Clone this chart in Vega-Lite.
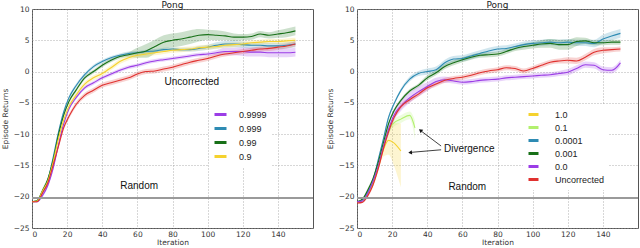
{
"$schema": "https://vega.github.io/schema/vega-lite/v6.json",
"padding": 0,
"spacing": 10,
"background": "white",
"config": {
 "font": "Liberation Sans",
 "view": {"stroke": "#555", "strokeWidth": 1},
 "axis": {"grid": true, "gridColor": "#999", "gridDash": [1, 2], "gridWidth": 0.8, "domain": false, "tickSize": 0, "tickCount": 10, "labelOverlap": false, "labelFont": "DejaVu Sans", "labelFontSize": 7.5, "labelColor": "#333", "titleFont": "DejaVu Sans", "titleFontSize": 7.5, "titleFontWeight": "normal", "titleColor": "#333"},
 "title": {"font": "DejaVu Sans", "fontSize": 9, "fontWeight": "normal", "offset": -5, "color": "#222"},
 "legend": {"symbolType": "stroke", "symbolStrokeWidth": 3, "symbolOpacity": 1, "labelFontSize": 9, "labelFont": "Liberation Sans", "labelColor": "#222", "fillColor": "white", "padding": 4, "rowPadding": 0}
},
"datasets": {
"L": [
{"s":"0.9999","x":0,"y":-20.8,"lo":-20.9,"hi":-20.7},{"s":"0.9999","x":3,"y":-20.8,"lo":-20.9,"hi":-20.7},{"s":"0.9999","x":6,"y":-19.8,"lo":-20.1,"hi":-19.5},{"s":"0.9999","x":9,"y":-18.2,"lo":-18.5,"hi":-17.9},{"s":"0.9999","x":12,"y":-15.5,"lo":-15.8,"hi":-15.2},{"s":"0.9999","x":15,"y":-11.8,"lo":-12.1,"hi":-11.5},{"s":"0.9999","x":18,"y":-8.4,"lo":-8.7,"hi":-8.1},{"s":"0.9999","x":21,"y":-6.0,"lo":-6.3,"hi":-5.7},{"s":"0.9999","x":25,"y":-4.2,"lo":-4.5,"hi":-3.9},{"s":"0.9999","x":30,"y":-2.6,"lo":-2.9,"hi":-2.3},{"s":"0.9999","x":35,"y":-1.8,"lo":-2.1,"hi":-1.5},{"s":"0.9999","x":40,"y":-1.0,"lo":-1.3,"hi":-0.7},{"s":"0.9999","x":45,"y":-0.4,"lo":-0.7,"hi":-0.1},{"s":"0.9999","x":50,"y":0.2,"lo":-0.1,"hi":0.5},{"s":"0.9999","x":55,"y":0.7,"lo":0.4,"hi":1.0},{"s":"0.9999","x":60,"y":1.0,"lo":0.7,"hi":1.3},{"s":"0.9999","x":65,"y":1.4,"lo":1.1,"hi":1.7},{"s":"0.9999","x":70,"y":1.7,"lo":1.4,"hi":2.0},{"s":"0.9999","x":75,"y":1.9,"lo":1.6,"hi":2.2},{"s":"0.9999","x":80,"y":2.1,"lo":1.8,"hi":2.4},{"s":"0.9999","x":85,"y":2.3,"lo":2.0,"hi":2.6},{"s":"0.9999","x":90,"y":2.5,"lo":2.2,"hi":2.8},{"s":"0.9999","x":95,"y":2.7,"lo":2.4,"hi":3.0},{"s":"0.9999","x":100,"y":2.8,"lo":2.5,"hi":3.1},{"s":"0.9999","x":105,"y":3.0,"lo":2.6,"hi":3.4},{"s":"0.9999","x":110,"y":3.2,"lo":2.6,"hi":3.8},{"s":"0.9999","x":115,"y":3.2,"lo":2.6,"hi":3.8},{"s":"0.9999","x":120,"y":3.2,"lo":2.5,"hi":3.9},{"s":"0.9999","x":125,"y":3.1,"lo":2.4,"hi":3.8},{"s":"0.9999","x":130,"y":3.1,"lo":2.4,"hi":3.8},{"s":"0.9999","x":135,"y":3.0,"lo":2.3,"hi":3.7},{"s":"0.9999","x":140,"y":3.0,"lo":2.3,"hi":3.7},{"s":"0.9999","x":145,"y":3.0,"lo":2.3,"hi":3.7},{"s":"0.9999","x":150,"y":3.1,"lo":2.4,"hi":3.8},
{"s":"0.999","x":0,"y":-20.8,"lo":-20.9,"hi":-20.7},{"s":"0.999","x":3,"y":-20.7,"lo":-20.8,"hi":-20.6},{"s":"0.999","x":6,"y":-19.2,"lo":-19.5,"hi":-18.9},{"s":"0.999","x":9,"y":-17.4,"lo":-17.7,"hi":-17.1},{"s":"0.999","x":12,"y":-13.8,"lo":-14.1,"hi":-13.5},{"s":"0.999","x":15,"y":-9.8,"lo":-10.1,"hi":-9.5},{"s":"0.999","x":18,"y":-6.5,"lo":-6.8,"hi":-6.2},{"s":"0.999","x":21,"y":-4.2,"lo":-4.5,"hi":-3.9},{"s":"0.999","x":25,"y":-2.3,"lo":-2.6,"hi":-2.0},{"s":"0.999","x":30,"y":-0.5,"lo":-0.8,"hi":-0.2},{"s":"0.999","x":35,"y":0.8,"lo":0.5,"hi":1.1},{"s":"0.999","x":40,"y":1.6,"lo":1.3,"hi":1.9},{"s":"0.999","x":45,"y":2.2,"lo":1.9,"hi":2.5},{"s":"0.999","x":50,"y":2.6,"lo":2.3,"hi":2.9},{"s":"0.999","x":55,"y":2.9,"lo":2.6,"hi":3.2},{"s":"0.999","x":60,"y":3.0,"lo":2.7,"hi":3.3},{"s":"0.999","x":65,"y":3.2,"lo":2.9,"hi":3.5},{"s":"0.999","x":70,"y":3.3,"lo":3.0,"hi":3.6},{"s":"0.999","x":75,"y":3.5,"lo":3.2,"hi":3.8},{"s":"0.999","x":80,"y":3.6,"lo":3.3,"hi":3.9},{"s":"0.999","x":85,"y":3.5,"lo":3.2,"hi":3.8},{"s":"0.999","x":90,"y":3.5,"lo":3.2,"hi":3.8},{"s":"0.999","x":95,"y":3.7,"lo":3.3,"hi":4.1},{"s":"0.999","x":100,"y":3.9,"lo":3.5,"hi":4.3},{"s":"0.999","x":105,"y":4.2,"lo":3.7,"hi":4.7},{"s":"0.999","x":110,"y":4.4,"lo":3.9,"hi":4.9},{"s":"0.999","x":115,"y":4.4,"lo":3.9,"hi":4.9},{"s":"0.999","x":120,"y":4.3,"lo":3.8,"hi":4.8},{"s":"0.999","x":125,"y":4.2,"lo":3.7,"hi":4.7},{"s":"0.999","x":130,"y":4.2,"lo":3.7,"hi":4.7},{"s":"0.999","x":135,"y":4.1,"lo":3.6,"hi":4.6},{"s":"0.999","x":140,"y":4.1,"lo":3.6,"hi":4.6},{"s":"0.999","x":145,"y":4.2,"lo":3.7,"hi":4.7},{"s":"0.999","x":150,"y":4.4,"lo":3.9,"hi":4.9},
{"s":"0.99","x":0,"y":-20.8,"lo":-20.9,"hi":-20.7},{"s":"0.99","x":3,"y":-20.6,"lo":-20.7,"hi":-20.5},{"s":"0.99","x":6,"y":-19.0,"lo":-19.3,"hi":-18.7},{"s":"0.99","x":9,"y":-17.2,"lo":-17.5,"hi":-16.9},{"s":"0.99","x":12,"y":-14.2,"lo":-14.5,"hi":-13.9},{"s":"0.99","x":15,"y":-10.2,"lo":-10.5,"hi":-9.9},{"s":"0.99","x":18,"y":-7.0,"lo":-7.3,"hi":-6.7},{"s":"0.99","x":21,"y":-4.8,"lo":-5.1,"hi":-4.5},{"s":"0.99","x":25,"y":-3.0,"lo":-3.3,"hi":-2.7},{"s":"0.99","x":30,"y":-1.0,"lo":-1.3,"hi":-0.7},{"s":"0.99","x":35,"y":0.0,"lo":-0.3,"hi":0.3},{"s":"0.99","x":40,"y":1.0,"lo":0.7,"hi":1.3},{"s":"0.99","x":45,"y":1.8,"lo":1.5,"hi":2.1},{"s":"0.99","x":50,"y":2.4,"lo":2.1,"hi":2.7},{"s":"0.99","x":55,"y":2.7,"lo":2.3,"hi":3.1},{"s":"0.99","x":60,"y":3.0,"lo":2.2,"hi":3.8},{"s":"0.99","x":65,"y":3.3,"lo":2.2,"hi":4.4},{"s":"0.99","x":70,"y":4.0,"lo":2.9,"hi":5.1},{"s":"0.99","x":75,"y":4.7,"lo":3.6,"hi":5.8},{"s":"0.99","x":80,"y":5.0,"lo":3.9,"hi":6.1},{"s":"0.99","x":85,"y":5.2,"lo":4.1,"hi":6.3},{"s":"0.99","x":90,"y":5.5,"lo":4.4,"hi":6.6},{"s":"0.99","x":95,"y":5.8,"lo":4.8,"hi":6.8},{"s":"0.99","x":100,"y":5.9,"lo":5.1,"hi":6.7},{"s":"0.99","x":105,"y":5.8,"lo":5.0,"hi":6.6},{"s":"0.99","x":110,"y":5.7,"lo":5.0,"hi":6.4},{"s":"0.99","x":115,"y":5.5,"lo":4.9,"hi":6.1},{"s":"0.99","x":120,"y":5.5,"lo":5.0,"hi":6.0},{"s":"0.99","x":125,"y":5.6,"lo":5.1,"hi":6.1},{"s":"0.99","x":130,"y":6.0,"lo":5.5,"hi":6.5},{"s":"0.99","x":135,"y":5.8,"lo":5.3,"hi":6.3},{"s":"0.99","x":140,"y":6.0,"lo":5.4,"hi":6.6},{"s":"0.99","x":145,"y":6.2,"lo":5.5,"hi":6.9},{"s":"0.99","x":150,"y":6.5,"lo":5.8,"hi":7.2},
{"s":"0.9","x":0,"y":-20.8,"lo":-20.9,"hi":-20.7},{"s":"0.9","x":3,"y":-20.7,"lo":-20.8,"hi":-20.6},{"s":"0.9","x":6,"y":-19.1,"lo":-19.4,"hi":-18.8},{"s":"0.9","x":9,"y":-17.5,"lo":-17.8,"hi":-17.2},{"s":"0.9","x":12,"y":-14.5,"lo":-14.8,"hi":-14.2},{"s":"0.9","x":15,"y":-10.8,"lo":-11.2,"hi":-10.4},{"s":"0.9","x":18,"y":-7.8,"lo":-8.2,"hi":-7.4},{"s":"0.9","x":21,"y":-5.6,"lo":-6.0,"hi":-5.2},{"s":"0.9","x":25,"y":-3.8,"lo":-4.2,"hi":-3.4},{"s":"0.9","x":30,"y":-2.0,"lo":-2.4,"hi":-1.6},{"s":"0.9","x":35,"y":-1.0,"lo":-1.4,"hi":-0.6},{"s":"0.9","x":40,"y":-0.3,"lo":-0.7,"hi":0.1},{"s":"0.9","x":45,"y":0.6,"lo":0.2,"hi":1.0},{"s":"0.9","x":50,"y":1.6,"lo":1.2,"hi":2.0},{"s":"0.9","x":55,"y":2.2,"lo":1.8,"hi":2.6},{"s":"0.9","x":60,"y":2.6,"lo":2.2,"hi":3.0},{"s":"0.9","x":65,"y":2.8,"lo":2.4,"hi":3.2},{"s":"0.9","x":70,"y":3.0,"lo":2.6,"hi":3.4},{"s":"0.9","x":75,"y":3.2,"lo":2.8,"hi":3.6},{"s":"0.9","x":80,"y":3.4,"lo":3.0,"hi":3.8},{"s":"0.9","x":85,"y":3.5,"lo":3.1,"hi":3.9},{"s":"0.9","x":90,"y":3.6,"lo":3.2,"hi":4.0},{"s":"0.9","x":95,"y":3.8,"lo":3.4,"hi":4.2},{"s":"0.9","x":100,"y":3.9,"lo":3.5,"hi":4.3},{"s":"0.9","x":105,"y":4.0,"lo":3.6,"hi":4.4},{"s":"0.9","x":110,"y":4.2,"lo":3.8,"hi":4.6},{"s":"0.9","x":115,"y":4.3,"lo":3.9,"hi":4.7},{"s":"0.9","x":120,"y":4.4,"lo":4.0,"hi":4.8},{"s":"0.9","x":125,"y":4.6,"lo":4.2,"hi":5.0},{"s":"0.9","x":130,"y":4.7,"lo":4.3,"hi":5.1},{"s":"0.9","x":135,"y":4.8,"lo":4.4,"hi":5.2},{"s":"0.9","x":140,"y":4.8,"lo":4.4,"hi":5.2},{"s":"0.9","x":145,"y":4.9,"lo":4.5,"hi":5.3},{"s":"0.9","x":150,"y":5.0,"lo":4.6,"hi":5.4},
{"s":"Uncorrected","x":0,"y":-20.8,"lo":-20.9,"hi":-20.7},{"s":"Uncorrected","x":3,"y":-20.8,"lo":-20.9,"hi":-20.7},{"s":"Uncorrected","x":6,"y":-19.4,"lo":-19.7,"hi":-19.1},{"s":"Uncorrected","x":9,"y":-17.8,"lo":-18.1,"hi":-17.5},{"s":"Uncorrected","x":12,"y":-15.0,"lo":-15.4,"hi":-14.6},{"s":"Uncorrected","x":15,"y":-12.0,"lo":-12.4,"hi":-11.6},{"s":"Uncorrected","x":18,"y":-9.0,"lo":-9.4,"hi":-8.6},{"s":"Uncorrected","x":21,"y":-7.2,"lo":-7.6,"hi":-6.8},{"s":"Uncorrected","x":25,"y":-5.3,"lo":-5.7,"hi":-4.9},{"s":"Uncorrected","x":30,"y":-3.8,"lo":-4.2,"hi":-3.4},{"s":"Uncorrected","x":35,"y":-3.0,"lo":-3.4,"hi":-2.6},{"s":"Uncorrected","x":40,"y":-2.2,"lo":-2.6,"hi":-1.8},{"s":"Uncorrected","x":45,"y":-1.8,"lo":-2.2,"hi":-1.4},{"s":"Uncorrected","x":50,"y":-1.4,"lo":-1.8,"hi":-1.0},{"s":"Uncorrected","x":55,"y":-1.0,"lo":-1.4,"hi":-0.6},{"s":"Uncorrected","x":60,"y":-0.4,"lo":-0.8,"hi":0.0},{"s":"Uncorrected","x":65,"y":0.0,"lo":-0.4,"hi":0.4},{"s":"Uncorrected","x":70,"y":0.1,"lo":-0.3,"hi":0.5},{"s":"Uncorrected","x":75,"y":0.4,"lo":0.0,"hi":0.8},{"s":"Uncorrected","x":80,"y":0.7,"lo":0.3,"hi":1.1},{"s":"Uncorrected","x":85,"y":1.1,"lo":0.7,"hi":1.5},{"s":"Uncorrected","x":90,"y":1.5,"lo":1.1,"hi":1.9},{"s":"Uncorrected","x":95,"y":1.8,"lo":1.4,"hi":2.2},{"s":"Uncorrected","x":100,"y":2.1,"lo":1.7,"hi":2.5},{"s":"Uncorrected","x":105,"y":2.5,"lo":2.1,"hi":2.9},{"s":"Uncorrected","x":110,"y":2.8,"lo":2.4,"hi":3.2},{"s":"Uncorrected","x":115,"y":3.0,"lo":2.6,"hi":3.4},{"s":"Uncorrected","x":120,"y":3.2,"lo":2.8,"hi":3.6},{"s":"Uncorrected","x":125,"y":3.4,"lo":3.0,"hi":3.8},{"s":"Uncorrected","x":130,"y":3.6,"lo":3.2,"hi":4.0},{"s":"Uncorrected","x":135,"y":3.7,"lo":3.3,"hi":4.1},{"s":"Uncorrected","x":140,"y":3.9,"lo":3.5,"hi":4.3},{"s":"Uncorrected","x":145,"y":4.1,"lo":3.7,"hi":4.5},{"s":"Uncorrected","x":150,"y":4.4,"lo":4.0,"hi":4.8}
],
"R": [
{"s":"1.0","x":0,"y":-20.8,"lo":-20.9,"hi":-20.7},{"s":"1.0","x":3,"y":-20.6,"lo":-20.8,"hi":-20.4},{"s":"1.0","x":6,"y":-19.6,"lo":-19.9,"hi":-19.3},{"s":"1.0","x":9,"y":-18.0,"lo":-18.4,"hi":-17.6},{"s":"1.0","x":12,"y":-15.5,"lo":-16.0,"hi":-15.0},{"s":"1.0","x":15,"y":-12.5,"lo":-13.6,"hi":-11.3},{"s":"1.0","x":18,"y":-11.0,"lo":-13.3,"hi":-8.8},{"s":"1.0","x":21,"y":-11.4,"lo":-15.0,"hi":-8.2},{"s":"1.0","x":25,"y":-12.7,"lo":-18.5,"hi":-8.3},
{"s":"0.1","x":0,"y":-20.8,"lo":-20.9,"hi":-20.7},{"s":"0.1","x":3,"y":-20.6,"lo":-20.8,"hi":-20.4},{"s":"0.1","x":6,"y":-19.4,"lo":-19.7,"hi":-19.1},{"s":"0.1","x":9,"y":-17.7,"lo":-18.0,"hi":-17.4},{"s":"0.1","x":12,"y":-15.0,"lo":-15.4,"hi":-14.6},{"s":"0.1","x":15,"y":-11.8,"lo":-12.3,"hi":-11.3},{"s":"0.1","x":18,"y":-9.4,"lo":-10.0,"hi":-8.8},{"s":"0.1","x":21,"y":-8.2,"lo":-8.8,"hi":-7.6},{"s":"0.1","x":25,"y":-7.6,"lo":-8.2,"hi":-7.0},{"s":"0.1","x":30,"y":-7.0,"lo":-7.6,"hi":-6.4},{"s":"0.1","x":33,"y":-9.0,"lo":-10.8,"hi":-7.8},
{"s":"0.0001","x":0,"y":-20.8,"lo":-20.9,"hi":-20.7},{"s":"0.0001","x":3,"y":-20.5,"lo":-20.6,"hi":-20.4},{"s":"0.0001","x":6,"y":-19.3,"lo":-19.6,"hi":-19.0},{"s":"0.0001","x":9,"y":-17.5,"lo":-17.8,"hi":-17.2},{"s":"0.0001","x":12,"y":-14.2,"lo":-14.5,"hi":-13.9},{"s":"0.0001","x":15,"y":-10.8,"lo":-11.1,"hi":-10.5},{"s":"0.0001","x":18,"y":-7.3,"lo":-7.6,"hi":-7.0},{"s":"0.0001","x":21,"y":-5.2,"lo":-5.5,"hi":-4.9},{"s":"0.0001","x":25,"y":-3.0,"lo":-3.3,"hi":-2.7},{"s":"0.0001","x":30,"y":-1.2,"lo":-1.6,"hi":-0.8},{"s":"0.0001","x":35,"y":-0.3,"lo":-0.7,"hi":0.1},{"s":"0.0001","x":40,"y":0.0,"lo":-0.5,"hi":0.5},{"s":"0.0001","x":45,"y":0.3,"lo":-0.2,"hi":0.8},{"s":"0.0001","x":50,"y":1.4,"lo":0.9,"hi":1.9},{"s":"0.0001","x":55,"y":2.0,"lo":1.5,"hi":2.5},{"s":"0.0001","x":60,"y":2.1,"lo":1.6,"hi":2.6},{"s":"0.0001","x":65,"y":2.5,"lo":2.0,"hi":3.0},{"s":"0.0001","x":70,"y":2.9,"lo":2.4,"hi":3.4},{"s":"0.0001","x":75,"y":3.3,"lo":2.8,"hi":3.8},{"s":"0.0001","x":80,"y":3.6,"lo":3.1,"hi":4.1},{"s":"0.0001","x":85,"y":3.7,"lo":3.2,"hi":4.2},{"s":"0.0001","x":90,"y":4.0,"lo":3.5,"hi":4.5},{"s":"0.0001","x":95,"y":4.3,"lo":3.8,"hi":4.8},{"s":"0.0001","x":100,"y":4.5,"lo":4.0,"hi":5.0},{"s":"0.0001","x":105,"y":4.6,"lo":4.1,"hi":5.1},{"s":"0.0001","x":110,"y":4.7,"lo":4.2,"hi":5.2},{"s":"0.0001","x":115,"y":4.6,"lo":4.1,"hi":5.1},{"s":"0.0001","x":120,"y":4.7,"lo":4.2,"hi":5.2},{"s":"0.0001","x":125,"y":4.6,"lo":4.1,"hi":5.1},{"s":"0.0001","x":130,"y":4.6,"lo":4.1,"hi":5.1},{"s":"0.0001","x":135,"y":4.5,"lo":3.9,"hi":5.1},{"s":"0.0001","x":140,"y":5.2,"lo":4.5,"hi":5.9},{"s":"0.0001","x":145,"y":5.7,"lo":5.0,"hi":6.4},{"s":"0.0001","x":150,"y":6.1,"lo":5.4,"hi":6.8},
{"s":"0.001","x":0,"y":-20.8,"lo":-20.9,"hi":-20.7},{"s":"0.001","x":3,"y":-20.4,"lo":-20.5,"hi":-20.3},{"s":"0.001","x":6,"y":-19.0,"lo":-19.3,"hi":-18.7},{"s":"0.001","x":9,"y":-17.2,"lo":-17.5,"hi":-16.9},{"s":"0.001","x":12,"y":-14.6,"lo":-14.9,"hi":-14.3},{"s":"0.001","x":15,"y":-11.4,"lo":-11.7,"hi":-11.1},{"s":"0.001","x":18,"y":-8.3,"lo":-8.6,"hi":-8.0},{"s":"0.001","x":21,"y":-6.3,"lo":-6.6,"hi":-6.0},{"s":"0.001","x":25,"y":-4.6,"lo":-4.9,"hi":-4.3},{"s":"0.001","x":30,"y":-3.1,"lo":-3.4,"hi":-2.8},{"s":"0.001","x":35,"y":-2.2,"lo":-2.5,"hi":-1.9},{"s":"0.001","x":40,"y":-1.0,"lo":-1.4,"hi":-0.6},{"s":"0.001","x":45,"y":-0.2,"lo":-0.6,"hi":0.2},{"s":"0.001","x":50,"y":0.8,"lo":0.4,"hi":1.2},{"s":"0.001","x":55,"y":1.4,"lo":1.0,"hi":1.8},{"s":"0.001","x":60,"y":1.9,"lo":1.5,"hi":2.3},{"s":"0.001","x":65,"y":2.3,"lo":1.9,"hi":2.7},{"s":"0.001","x":70,"y":2.6,"lo":2.2,"hi":3.0},{"s":"0.001","x":75,"y":2.7,"lo":2.3,"hi":3.1},{"s":"0.001","x":80,"y":2.8,"lo":2.4,"hi":3.2},{"s":"0.001","x":85,"y":3.2,"lo":2.8,"hi":3.6},{"s":"0.001","x":90,"y":3.7,"lo":3.3,"hi":4.1},{"s":"0.001","x":95,"y":4.0,"lo":3.5,"hi":4.5},{"s":"0.001","x":100,"y":4.2,"lo":3.7,"hi":4.7},{"s":"0.001","x":105,"y":4.4,"lo":3.8,"hi":5.0},{"s":"0.001","x":110,"y":4.5,"lo":3.8,"hi":5.2},{"s":"0.001","x":115,"y":4.3,"lo":3.5,"hi":5.1},{"s":"0.001","x":120,"y":4.3,"lo":3.5,"hi":5.1},{"s":"0.001","x":125,"y":4.8,"lo":4.1,"hi":5.5},{"s":"0.001","x":130,"y":4.9,"lo":4.4,"hi":5.4},{"s":"0.001","x":135,"y":4.6,"lo":4.2,"hi":5.0},{"s":"0.001","x":140,"y":4.6,"lo":4.2,"hi":5.0},{"s":"0.001","x":145,"y":4.7,"lo":4.3,"hi":5.1},{"s":"0.001","x":150,"y":4.7,"lo":4.3,"hi":5.1},
{"s":"0.0","x":0,"y":-20.8,"lo":-20.9,"hi":-20.7},{"s":"0.0","x":3,"y":-20.7,"lo":-20.8,"hi":-20.6},{"s":"0.0","x":6,"y":-19.5,"lo":-19.8,"hi":-19.2},{"s":"0.0","x":9,"y":-17.6,"lo":-17.9,"hi":-17.3},{"s":"0.0","x":12,"y":-15.2,"lo":-15.6,"hi":-14.8},{"s":"0.0","x":15,"y":-12.0,"lo":-12.6,"hi":-11.4},{"s":"0.0","x":18,"y":-9.2,"lo":-10.0,"hi":-8.4},{"s":"0.0","x":21,"y":-7.0,"lo":-7.8,"hi":-6.2},{"s":"0.0","x":25,"y":-5.5,"lo":-6.3,"hi":-4.7},{"s":"0.0","x":30,"y":-4.2,"lo":-5.0,"hi":-3.4},{"s":"0.0","x":35,"y":-3.2,"lo":-4.0,"hi":-2.4},{"s":"0.0","x":40,"y":-2.4,"lo":-3.1,"hi":-1.7},{"s":"0.0","x":45,"y":-1.6,"lo":-2.2,"hi":-1.0},{"s":"0.0","x":50,"y":-1.3,"lo":-1.8,"hi":-0.8},{"s":"0.0","x":55,"y":-1.5,"lo":-1.9,"hi":-1.1},{"s":"0.0","x":60,"y":-1.7,"lo":-2.1,"hi":-1.3},{"s":"0.0","x":65,"y":-1.6,"lo":-2.0,"hi":-1.2},{"s":"0.0","x":70,"y":-1.4,"lo":-1.8,"hi":-1.0},{"s":"0.0","x":75,"y":-1.3,"lo":-1.7,"hi":-0.9},{"s":"0.0","x":80,"y":-1.2,"lo":-1.6,"hi":-0.8},{"s":"0.0","x":85,"y":-1.0,"lo":-1.4,"hi":-0.6},{"s":"0.0","x":90,"y":-0.9,"lo":-1.3,"hi":-0.5},{"s":"0.0","x":95,"y":-0.8,"lo":-1.2,"hi":-0.4},{"s":"0.0","x":100,"y":-0.7,"lo":-1.1,"hi":-0.3},{"s":"0.0","x":105,"y":-0.6,"lo":-1.0,"hi":-0.2},{"s":"0.0","x":110,"y":-0.5,"lo":-0.9,"hi":-0.1},{"s":"0.0","x":115,"y":-0.3,"lo":-0.7,"hi":0.1},{"s":"0.0","x":120,"y":-0.1,"lo":-0.6,"hi":0.4},{"s":"0.0","x":125,"y":0.5,"lo":0.0,"hi":1.0},{"s":"0.0","x":130,"y":1.1,"lo":0.6,"hi":1.6},{"s":"0.0","x":135,"y":1.0,"lo":0.5,"hi":1.5},{"s":"0.0","x":140,"y":0.3,"lo":-0.2,"hi":0.8},{"s":"0.0","x":145,"y":0.2,"lo":-0.3,"hi":0.7},{"s":"0.0","x":150,"y":1.4,"lo":0.9,"hi":1.9},
{"s":"Uncorrected","x":0,"y":-21.0,"lo":-21.1,"hi":-20.9},{"s":"Uncorrected","x":3,"y":-20.9,"lo":-21.0,"hi":-20.8},{"s":"Uncorrected","x":6,"y":-19.9,"lo":-20.2,"hi":-19.6},{"s":"Uncorrected","x":9,"y":-18.2,"lo":-18.5,"hi":-17.9},{"s":"Uncorrected","x":12,"y":-15.6,"lo":-16.0,"hi":-15.2},{"s":"Uncorrected","x":15,"y":-12.4,"lo":-12.8,"hi":-12.0},{"s":"Uncorrected","x":18,"y":-9.6,"lo":-10.0,"hi":-9.2},{"s":"Uncorrected","x":21,"y":-7.4,"lo":-7.8,"hi":-7.0},{"s":"Uncorrected","x":25,"y":-5.6,"lo":-6.0,"hi":-5.2},{"s":"Uncorrected","x":30,"y":-4.5,"lo":-4.9,"hi":-4.1},{"s":"Uncorrected","x":35,"y":-3.6,"lo":-4.0,"hi":-3.2},{"s":"Uncorrected","x":40,"y":-2.6,"lo":-3.0,"hi":-2.2},{"s":"Uncorrected","x":45,"y":-2.0,"lo":-2.4,"hi":-1.6},{"s":"Uncorrected","x":50,"y":-1.4,"lo":-1.8,"hi":-1.0},{"s":"Uncorrected","x":55,"y":-1.1,"lo":-1.5,"hi":-0.7},{"s":"Uncorrected","x":60,"y":-0.9,"lo":-1.3,"hi":-0.5},{"s":"Uncorrected","x":65,"y":-0.6,"lo":-1.0,"hi":-0.2},{"s":"Uncorrected","x":70,"y":-0.2,"lo":-0.6,"hi":0.2},{"s":"Uncorrected","x":75,"y":0.1,"lo":-0.3,"hi":0.5},{"s":"Uncorrected","x":80,"y":0.3,"lo":-0.1,"hi":0.7},{"s":"Uncorrected","x":85,"y":0.6,"lo":0.2,"hi":1.0},{"s":"Uncorrected","x":90,"y":0.5,"lo":0.1,"hi":0.9},{"s":"Uncorrected","x":95,"y":0.1,"lo":-0.3,"hi":0.5},{"s":"Uncorrected","x":100,"y":0.5,"lo":0.1,"hi":0.9},{"s":"Uncorrected","x":105,"y":1.0,"lo":0.6,"hi":1.4},{"s":"Uncorrected","x":110,"y":1.5,"lo":1.1,"hi":1.9},{"s":"Uncorrected","x":115,"y":1.7,"lo":1.3,"hi":2.1},{"s":"Uncorrected","x":120,"y":1.8,"lo":1.3,"hi":2.3},{"s":"Uncorrected","x":125,"y":1.7,"lo":1.2,"hi":2.2},{"s":"Uncorrected","x":130,"y":2.3,"lo":1.8,"hi":2.8},{"s":"Uncorrected","x":135,"y":3.1,"lo":2.6,"hi":3.6},{"s":"Uncorrected","x":140,"y":3.4,"lo":2.9,"hi":3.9},{"s":"Uncorrected","x":145,"y":3.5,"lo":3.1,"hi":3.9},{"s":"Uncorrected","x":150,"y":3.6,"lo":3.2,"hi":4.0}
]
},
"hconcat": [
{
 "width": 281, "height": 219,
 "title": "Pong",
 "layer": [
  {"data": {"name": "L"}, "mark": {"type": "area", "opacity": 0.22, "interpolate": "monotone"},
   "encoding": {
    "x": {"field": "x", "type": "quantitative", "scale": {"domain": [0, 150]}, "axis": {"values": [0,20,40,60,80,100,120,140], "title": "Iteration", "labelPadding": 2, "titlePadding": 1, "tickCount": 10}},
    "y": {"field": "lo", "type": "quantitative", "scale": {"domain": [-25, 10]}, "axis": {"values": [-25,-20,-15,-10,-5,0,5,10], "title": "Episode Returns", "minExtent": 20, "maxExtent": 20, "labelPadding": 3, "titlePadding": 3, "tickCount": 10}},
    "y2": {"field": "hi"},
    "fill": {"field": "s", "type": "nominal", "scale": {"domain": ["Uncorrected","0.9","0.99","0.999","0.9999"], "range": ["#e0312f","#f5d22e","#187018","#2e8bb3","#9b3de6"]}, "legend": null}
   }},
  {"data": {"name": "L"}, "mark": {"type": "line", "strokeWidth": 1.1, "interpolate": "monotone"},
   "encoding": {
    "x": {"field": "x", "type": "quantitative"},
    "y": {"field": "y", "type": "quantitative"},
    "color": {"field": "s", "type": "nominal", "scale": {"domain": ["0.9999","0.999","0.99","0.9","Uncorrected"], "range": ["#9b3de6","#2e8bb3","#187018","#f5d22e","#e0312f"]},
      "legend": {"orient": "none", "legendX": 177, "legendY": 94, "title": null, "values": ["0.9999","0.999","0.99","0.9"], "symbolSize": 144, "labelOffset": 11}}
   }},
  {"data": {"values": [{"r": -20.2}]}, "mark": {"type": "rule", "color": "#9a9a9a", "strokeWidth": 2}, "encoding": {"y": {"field": "r", "type": "quantitative"}}},
  {"data": {"values": [{"label": "Uncorrected", "x": 91, "y": -1.7}, {"label": "Random", "x": 61, "y": -18.3}]}, "mark": {"type": "text", "fontSize": 10, "font": "Liberation Sans", "color": "#111"},
   "encoding": {"x": {"field": "x", "type": "quantitative"}, "y": {"field": "y", "type": "quantitative"}, "text": {"field": "label"}}}
 ]
},
{
 "width": 281, "height": 219,
 "title": "Pong",
 "layer": [
  {"data": {"name": "R"}, "mark": {"type": "area", "opacity": 0.22, "interpolate": "monotone"},
   "encoding": {
    "x": {"field": "x", "type": "quantitative", "scale": {"domain": [0, 150]}, "axis": {"values": [0,20,40,60,80,100,120,140], "title": "Iteration", "labelPadding": 2, "titlePadding": 1, "tickCount": 10}},
    "y": {"field": "lo", "type": "quantitative", "scale": {"domain": [-25, 10]}, "axis": {"values": [-25,-20,-15,-10,-5,0,5,10], "title": "Episode Returns", "minExtent": 20, "maxExtent": 20, "labelPadding": 3, "titlePadding": 3, "tickCount": 10}},
    "y2": {"field": "hi"},
    "fill": {"field": "s", "type": "nominal", "scale": {"domain": ["Uncorrected","0.0","0.001","0.0001","0.1","1.0"], "range": ["#e0312f","#9b3de6","#187018","#2e8bb3","#b2f06e","#f5d22e"]}, "legend": null}
   }},
  {"data": {"name": "R"}, "mark": {"type": "line", "strokeWidth": 1.1, "interpolate": "monotone"},
   "encoding": {
    "x": {"field": "x", "type": "quantitative"},
    "y": {"field": "y", "type": "quantitative"},
    "color": {"field": "s", "type": "nominal", "scale": {"domain": ["1.0","0.1","0.0001","0.001","0.0","Uncorrected"], "range": ["#f5d22e","#b2f06e","#2e8bb3","#187018","#9b3de6","#e0312f"]},
      "legend": {"orient": "none", "legendX": 166, "legendY": 95, "title": null, "symbolSize": 100, "labelOffset": 15}}
   }},
  {"data": {"values": [{"r": -20.2}]}, "mark": {"type": "rule", "color": "#9a9a9a", "strokeWidth": 2}, "encoding": {"y": {"field": "r", "type": "quantitative"}}},
  {"data": {"values": [{"x1": 47.9, "y1": -11.9, "x2": 37.0, "y2": -9.6}, {"x1": 47.9, "y1": -12.5, "x2": 31.2, "y2": -12.9}]}, "mark": {"type": "rule", "color": "#111", "strokeWidth": 0.8},
   "encoding": {"x": {"field": "x1", "type": "quantitative"}, "y": {"field": "y1", "type": "quantitative"}, "x2": {"field": "x2"}, "y2": {"field": "y2"}}},
  {"data": {"values": [{"x": 36.4, "y": -9.45}]}, "mark": {"type": "point", "shape": "triangle", "filled": true, "color": "#111", "opacity": 1, "size": 18, "angle": 306},
   "encoding": {"x": {"field": "x", "type": "quantitative"}, "y": {"field": "y", "type": "quantitative"}}},
  {"data": {"values": [{"x": 30.6, "y": -12.95}]}, "mark": {"type": "point", "shape": "triangle", "filled": true, "color": "#111", "opacity": 1, "size": 18, "angle": 264},
   "encoding": {"x": {"field": "x", "type": "quantitative"}, "y": {"field": "y", "type": "quantitative"}}},
  {"data": {"values": [{"label": "Divergence", "x": 49.5, "y": -12.4}]}, "mark": {"type": "text", "fontSize": 10, "font": "Liberation Sans", "color": "#111", "align": "left"},
   "encoding": {"x": {"field": "x", "type": "quantitative"}, "y": {"field": "y", "type": "quantitative"}, "text": {"field": "label"}}},
  {"data": {"values": [{"label": "Random", "x": 62.8, "y": -18.4}]}, "mark": {"type": "text", "fontSize": 10, "font": "Liberation Sans", "color": "#111"},
   "encoding": {"x": {"field": "x", "type": "quantitative"}, "y": {"field": "y", "type": "quantitative"}, "text": {"field": "label"}}}
 ]
}
],
"resolve": {"scale": {"color": "independent", "fill": "independent"}, "legend": {"color": "independent", "fill": "independent"}}
}
